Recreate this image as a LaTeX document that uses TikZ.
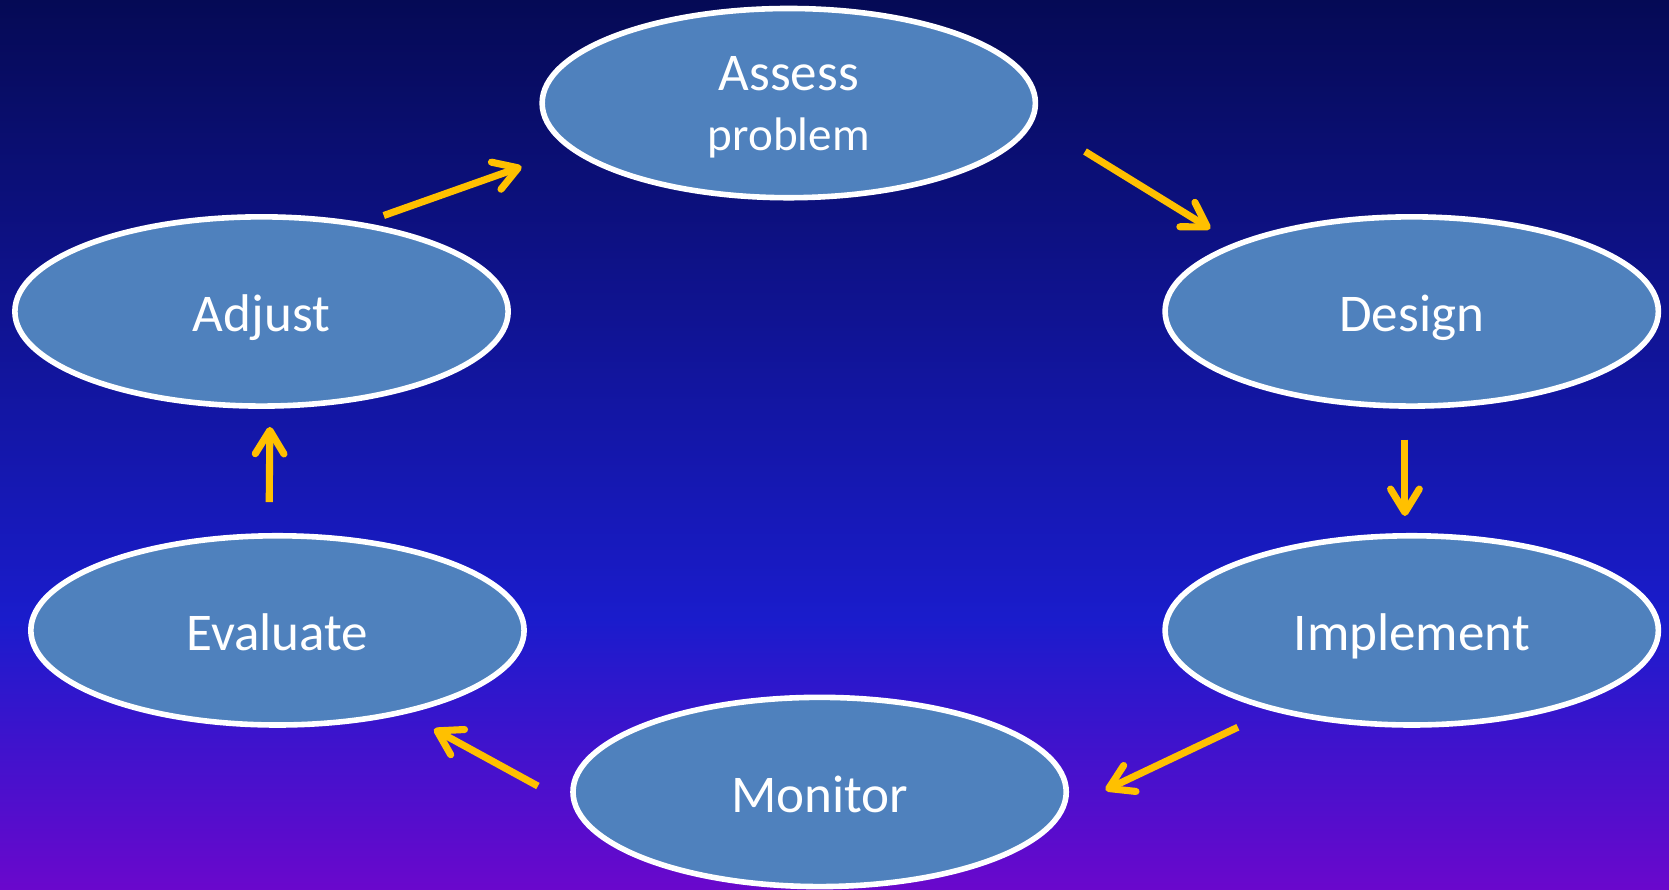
\documentclass[tikz,border=0pt]{standalone}
\usepackage{fontspec}
\setmainfont{Carlito}
\usetikzlibrary{shapes.geometric,arrows.meta}
\definecolor{bgtop}{HTML}{050A55}
\definecolor{bgmid}{HTML}{1A1CCC}
\definecolor{bgbot}{HTML}{6A08CC}
\definecolor{stagefill}{HTML}{4F81BD}
\definecolor{flowgold}{HTML}{FFC000}

\begin{document}
\begin{tikzpicture}[
        stage/.style={ellipse,draw=white,line width=1.5pt,fill=stagefill,minimum width=4.64cm,minimum height=1.78cm,inner sep=0pt,text=white,font=\fontsize{14.2pt}{16pt}\selectfont,align=center,text height=0.48cm,text depth=0.10cm},
        flow/.style={draw=flowgold,line width=1.9pt,-{Straight Barb[length=2.2mm,width=2.7mm,line cap=round,line join=round]}}]
                % background
                \shade[top color=bgmid,bottom color=bgbot] (0,0) rectangle (15.70,2.55);
                \shade[top color=bgtop,bottom color=bgmid] (0,2.54) rectangle (15.70,8.37);
                \useasboundingbox (0,0) rectangle (15.70,8.37);
                % stages
                \node[stage,text height=,text depth=-0.06cm] (assess) at (7.42,7.40) {Assess\\{\fontsize{12.6pt}{14pt}\selectfont problem}};
                \node[stage] (adjust) at (2.46,5.44) {Adjust};
                \node[stage] (design) at (13.28,5.44) {Design};
                \node[stage] (evaluate) at (2.61,2.44) {Evaluate};
                \node[stage] (implement) at (13.28,2.44) {Implement};
                \node[stage] (monitor) at (7.71,0.92) {Monitor};
                % cycle
                \draw[flow,shorten <=0.20cm,shorten >=0.48cm] (adjust.41.6) -- (assess.192.3);
                \draw[flow,shorten <=0.56cm,shorten >=0.26cm] (assess.-4) -- (design.159.3);
                \draw[flow,shorten <=0.29cm,shorten >=0.16cm] (design.266) -- (implement.94);
                \draw[flow,shorten <=0.355cm,shorten >=0.42cm] (implement.210.8) -- (monitor.-4.1);
                \draw[flow,shorten <=0.37cm,shorten >=0.30cm] (monitor.183.9) -- (evaluate.-33.7);
                \draw[flow,shorten <=0.29cm,shorten >=0.17cm] (evaluate.95) -- (adjust.275);
\end{tikzpicture}
\end{document}
